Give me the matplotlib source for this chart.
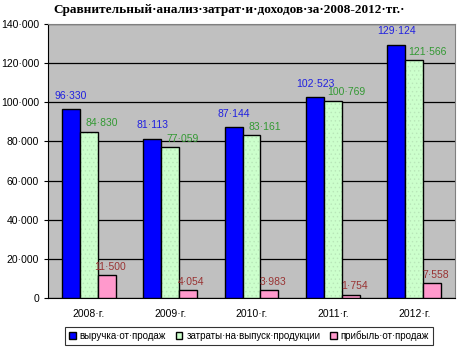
import matplotlib.pyplot as plt
import numpy as np

years = ['2008·г.', '2009·г.', '2010·г.', '2011·г.', '2012·г.']
revenue = [96330, 81113, 87144, 102523, 129124]
costs = [84830, 77059, 83161, 100769, 121566]
profit = [11500, 4054, 3983, 1754, 7558]
series_names = ['выручка·от·продаж', 'затраты·на·выпуск·продукции', 'прибыль·от·продаж']

def fmt(v):
    return f'{v:,}'.replace(',', '·')

plt.rcParams['hatch.linewidth'] = 0.5

fig = plt.figure(figsize=(4.59, 3.47), dpi=100)
ax = fig.add_axes([48 / 459, 1 - 298 / 347, 407 / 459, 274 / 347])
ax.set_facecolor('#C0C0C0')

x = np.arange(len(years))
w = 0.22
fills = ['#0000FF', '#CCFFCC', '#FF99CC']
text_cols = ['#2020E0', '#339933', '#993333']
# label offsets (x in category units, y in data units)
dx = [0.0, 0.16, 0.04]
dy = [4500, 1800, 1800]
for i, (vals, fc, tc, name) in enumerate(zip([revenue, costs, profit], fills, text_cols, series_names)):
    pos = x + (i - 1) * w
    if i == 1:
        # dotted texture on the cost bars
        ax.bar(pos, vals, w, color=fc, edgecolor='#B8E6B8', hatch='....', linewidth=0, zorder=3)
        ax.bar(pos, vals, w, fill=False, edgecolor='black', linewidth=1.0, zorder=3)
        ax.bar([0], [0], 0, color=fc, edgecolor='black', label=name)
    else:
        ax.bar(pos, vals, w, color=fc, edgecolor='black', linewidth=1.0, label=name, zorder=3)
    for p, v in zip(pos, vals):
        ax.text(p + dx[i], v + dy[i], fmt(v), ha='center', va='bottom',
                color=tc, fontsize=7.5, family='Liberation Sans', zorder=4)

ax.set_xlim(-0.5, 4.5)
ax.set_ylim(0, 140000)
ax.set_yticks(range(0, 140001, 20000))
ax.set_yticklabels([fmt(v) for v in range(0, 140001, 20000)], family='Liberation Sans', fontsize=7.5)
ax.set_xticks(x)
ax.set_xticklabels(years, family='Liberation Sans', fontsize=7.5)
ax.tick_params(axis='x', length=0, pad=8)
ax.tick_params(axis='y', length=3, direction='out')
ax.grid(axis='y', color='black', linewidth=0.9, zorder=1)
for s in ['top', 'right']:
    ax.spines[s].set_color('#808080')
ax.spines['left'].set_color('black')
ax.spines['bottom'].set_color('black')

fig.text(0.5, 1 - 10 / 347, 'Сравнительный·анализ·затрат·и·доходов·за·2008-2012·тг.·',
         ha='center', va='center', fontsize=9.5, fontweight='bold', family='Liberation Serif')

leg = fig.legend(loc='center', bbox_to_anchor=(249 / 459, 1 - 336 / 347), ncol=3,
                 prop={'family': 'Liberation Sans', 'size': 7}, frameon=True, fancybox=False,
                 edgecolor='black', handlelength=0.7, handleheight=0.7, handletextpad=0.4,
                 columnspacing=1.0, borderpad=0.35)
leg.get_frame().set_linewidth(0.8)

fig.savefig('out.png', dpi=100)
